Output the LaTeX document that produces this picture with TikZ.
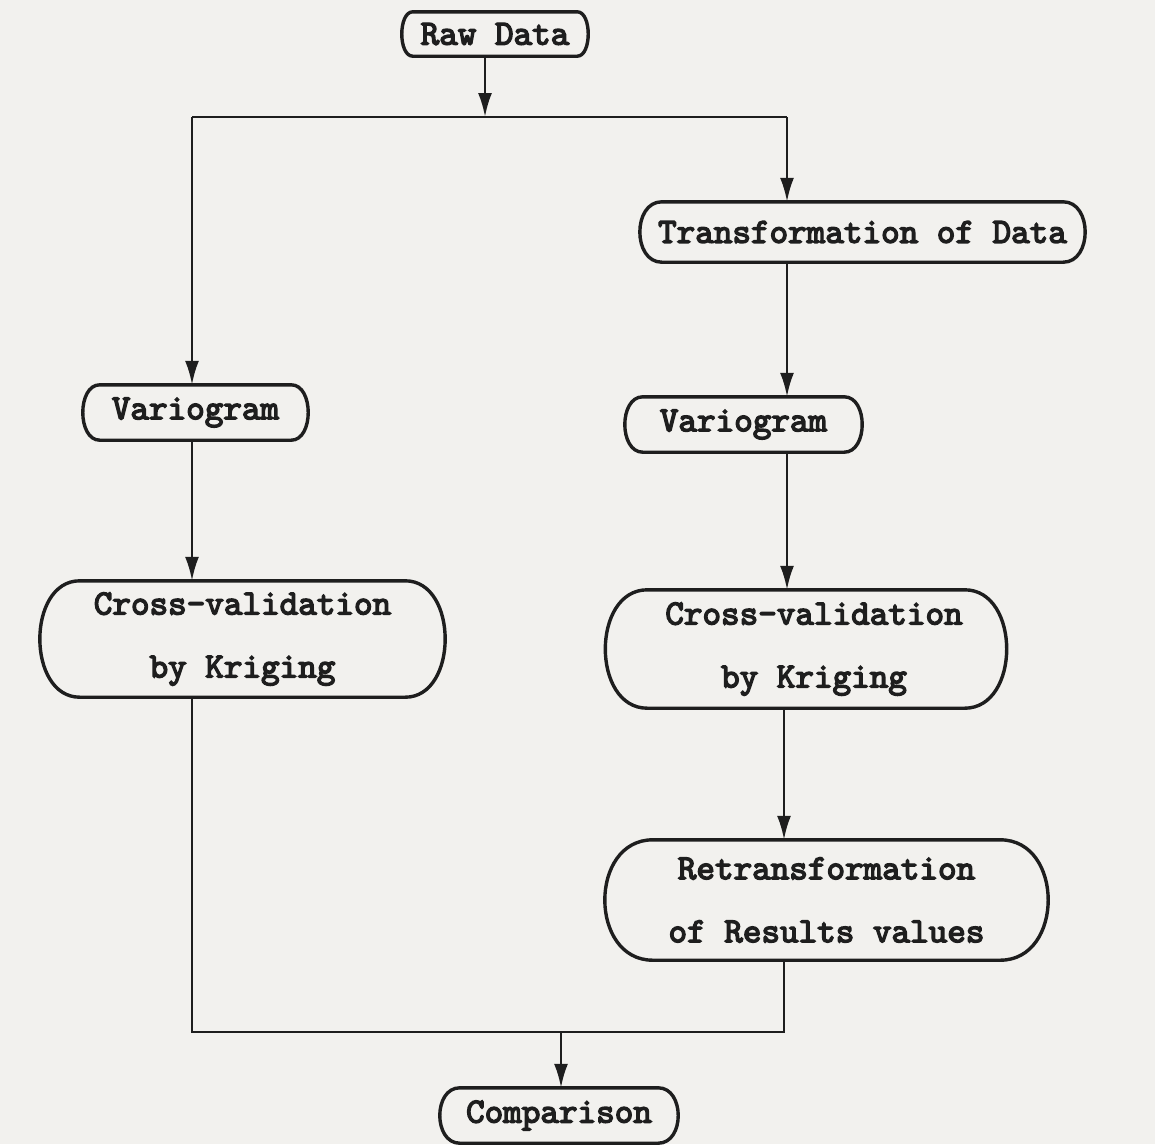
\documentclass[tikz,border=0pt]{standalone}
\usepackage{fontspec}
\newfontfamily\courfont{lmmono10-regular.otf}[FakeBold=4]
\usetikzlibrary{arrows.meta}
\definecolor{paper}{RGB}{242,241,238}
\definecolor{ink}{RGB}{30,30,30}
\tikzset{
  term/.style={rectangle, inner sep=0pt, align=center,
    font=\fontsize{35.4}{63}\selectfont\courfont, text=ink},
  boxline/.style={draw=ink, line width=3.4pt, line join=round},
  conn/.style={draw=ink, line width=2.6pt},
  arr/.style={conn, -{Latex[length=24pt,width=14pt]}},
}
\newcommand\termshape[2]{%
  \draw[boxline] (#1.north west) -- (#1.north east)
    .. controls +(#2,0) and +(#2,0) .. (#1.south east)
    -- (#1.south west)
    .. controls +(-#2,0) and +(-#2,0) .. cycle;}
\begin{document}
\begin{tikzpicture}[x=1pt,y=-1pt]
  \fill[paper] (0,0) rectangle (1155,1144);
  \useasboundingbox (0,0) rectangle (1155,1144);

  \node[term, minimum width=164pt, minimum height=44pt] (raw) at (495,34) {Raw Data};
  \node[term, minimum width=401pt, minimum height=60pt] (trans) at (862.5,232) {\makebox[0pt]{Transformation of Data}};
  \node[term, minimum width=191pt, minimum height=55pt] (varL) at (195.5,412.5) {Variogram};
  \node[term, minimum width=201pt, minimum height=55pt] (varR) at (743.5,424.5) {Variogram};
  \node[term, minimum width=325pt, minimum height=116pt] (cvL) at (242.5,639) {Cross-validation\\by Kriging};
  \node[term, minimum width=317pt, minimum height=118pt] (cvR) at (806,649) {\hspace*{16pt}Cross-validation\\\hspace*{16pt}by Kriging};
  \node[term, minimum width=347pt, minimum height=120pt] (retrans) at (826.5,900) {Retransformation\\of Results values};
  \node[term, minimum width=198pt, minimum height=55pt] (comp) at (559,1115.5) {Comparison};

  \termshape{raw}{14.7}
  \termshape{trans}{29.3}
  \termshape{varL}{22.7}
  \termshape{varR}{24}
  \termshape{cvL}{53.3}
  \termshape{cvR}{56}
  \termshape{retrans}{64}
  \termshape{comp}{26.7}

  \coordinate (ra) at (485,117);
  \coordinate (tl) at (192,117);
  \coordinate (tr) at (787,117);
  \coordinate (bl) at (192,1032);
  \coordinate (br) at (784,1032);
  \coordinate (bm) at (561,1032);

  \draw[arr] (raw.south -| ra) -- (ra);
  \draw[conn] (tl) -- (tr);
  \draw[arr] (tl) -- (varL.north -| tl);
  \draw[arr] (tr) -- (trans.north -| tr);
  \draw[arr] (trans.south -| tr) -- (varR.north -| tr);
  \draw[arr] (varL.south -| tl) -- (cvL.north -| tl);
  \draw[arr] (varR.south -| tr) -- (cvR.north -| tr);
  \draw[arr] (cvR.south -| br) -- (retrans.north -| br);
  \draw[conn] (cvL.south -| bl) -- (bl) -- (br) -- (retrans.south -| br);
  \draw[arr] (bm) -- (comp.north -| bm);
\end{tikzpicture}
\end{document}
